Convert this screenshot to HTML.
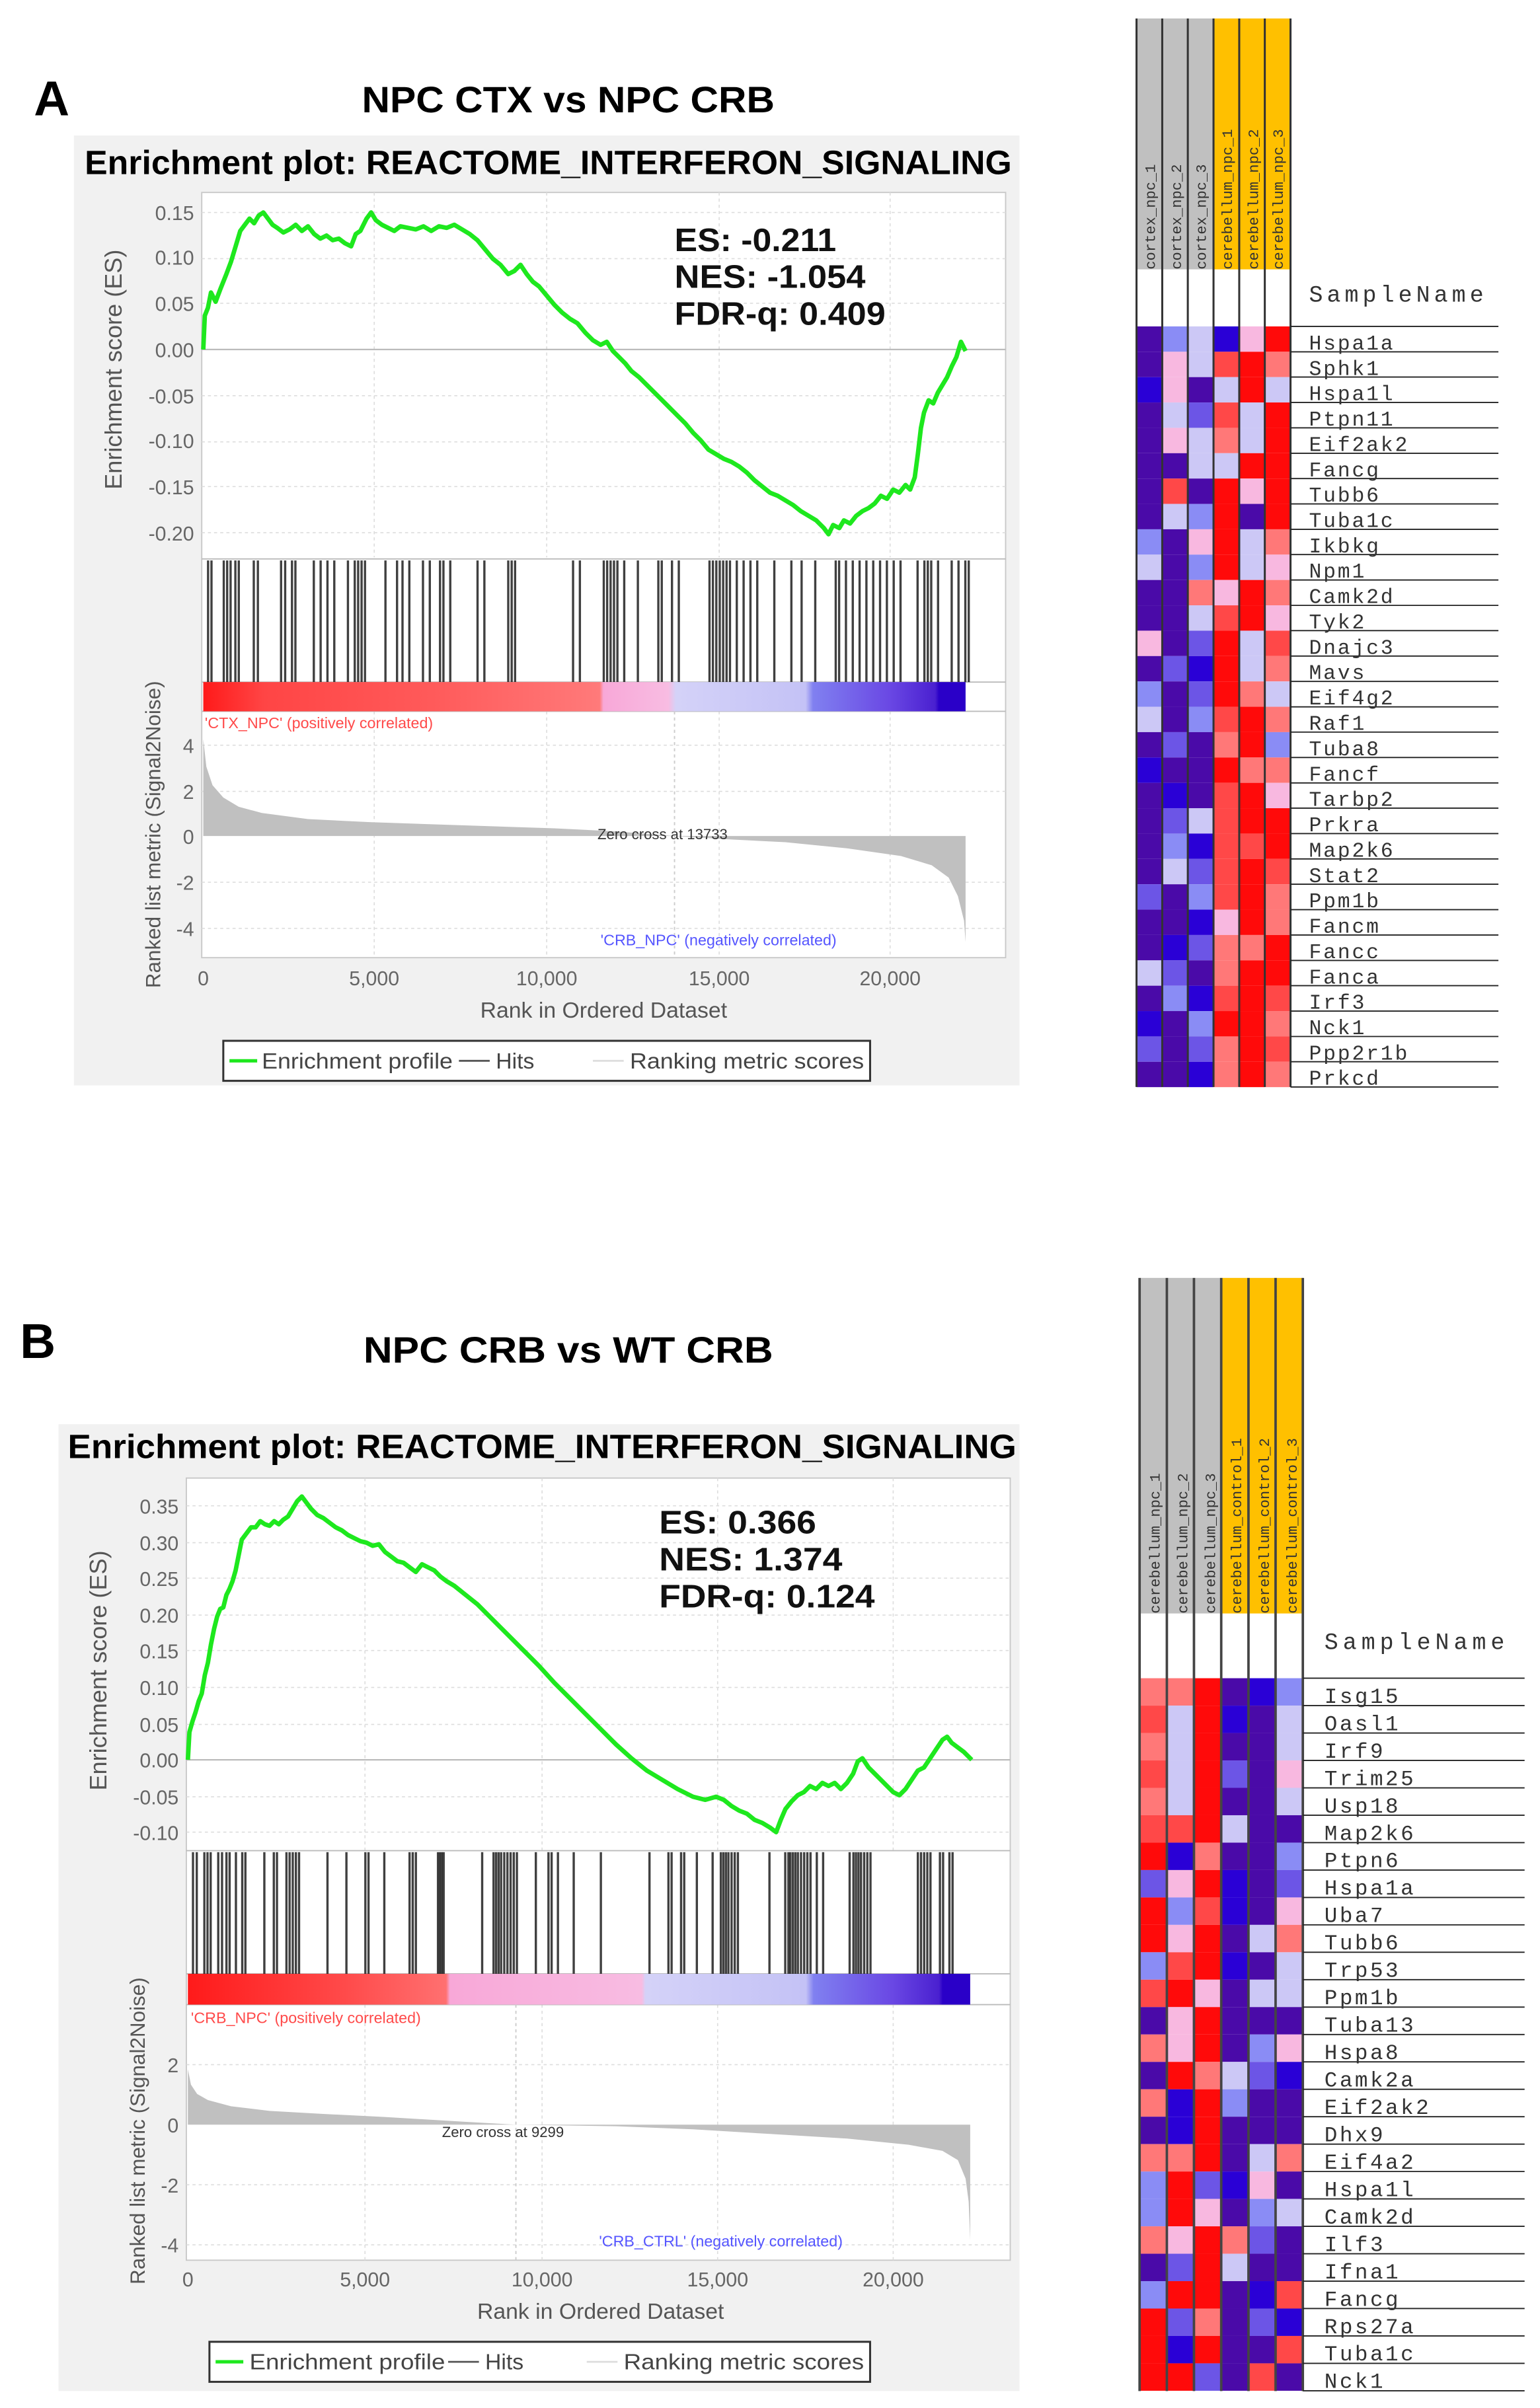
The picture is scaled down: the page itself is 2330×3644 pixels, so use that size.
<!DOCTYPE html>
<html><head><meta charset="utf-8"><style>
html,body{margin:0;padding:0;background:#fff}
svg{display:block}
.t{font-family:"Liberation Sans",sans-serif}
.m{font-family:"Liberation Mono",monospace;fill:#333}
.D{fill:#4a0aa8}.B{fill:#2a00d6}.M{fill:#6c55e6}.L{fill:#8a8cf5}.P{fill:#ccc8f6}.K{fill:#f8b8e0}.R{fill:#ff0a0a}.r{fill:#ff4848}.s{fill:#ff7878}
.tk{font-family:"Liberation Sans",sans-serif;font-size:13px;fill:#666}
.g{stroke:#ddd;stroke-width:0.7;stroke-dasharray:2 2}
.h line{stroke:#111;vector-effect:non-scaling-stroke;stroke-width:3.4;opacity:0.8}
.gl{stroke:#222;stroke-width:0.8}
</style></head><body>
<svg width="2330" height="3644" viewBox="0 0 1000 1564" preserveAspectRatio="none" xmlns="http://www.w3.org/2000/svg">
<defs>
<linearGradient id="ga" x1="0" x2="1">
<stop offset="0" stop-color="#ff1a1a"/><stop offset="0.08" stop-color="#ff4545"/><stop offset="0.3" stop-color="#ff5a5a"/><stop offset="0.52" stop-color="#ff7a7a"/><stop offset="0.525" stop-color="#f8a8d8"/><stop offset="0.61" stop-color="#f8bce2"/><stop offset="0.62" stop-color="#d4d2f8"/><stop offset="0.79" stop-color="#c4c2f6"/><stop offset="0.8" stop-color="#8080f0"/><stop offset="0.9" stop-color="#6a48e4"/><stop offset="0.96" stop-color="#4a20d0"/><stop offset="0.965" stop-color="#2a00c8"/><stop offset="1" stop-color="#2a00c8"/>
</linearGradient>
<linearGradient id="gb" x1="0" x2="1">
<stop offset="0" stop-color="#ff1a1a"/><stop offset="0.2" stop-color="#ff4a4a"/><stop offset="0.33" stop-color="#ff7070"/><stop offset="0.335" stop-color="#f8a8d8"/><stop offset="0.58" stop-color="#f8bce2"/><stop offset="0.585" stop-color="#d4d2f8"/><stop offset="0.79" stop-color="#c4c2f6"/><stop offset="0.8" stop-color="#8080f0"/><stop offset="0.9" stop-color="#6a48e4"/><stop offset="0.96" stop-color="#4a20d0"/><stop offset="0.965" stop-color="#2a00c8"/><stop offset="1" stop-color="#2a00c8"/>
</linearGradient>
</defs>

<!-- ===== PANEL A ===== -->
<text x="22" y="75" class="t" font-size="32" font-weight="bold">A</text>
<text x="235" y="73" class="t" font-size="24" font-weight="bold" textLength="268" lengthAdjust="spacingAndGlyphs">NPC CTX vs NPC CRB</text>
<rect x="48" y="88" width="614" height="617" fill="#f1f1f1"/>
<text x="55" y="113" class="t" font-size="22" font-weight="bold" textLength="602" lengthAdjust="spacingAndGlyphs">Enrichment plot: REACTOME_INTERFERON_SIGNALING</text>
<rect x="131" y="125" width="522" height="497" fill="#fff" stroke="#c8c8c8" stroke-width="0.8"/>
<g class="g">
<line x1="131" x2="653" y1="138" y2="138"/><line x1="131" x2="653" y1="168" y2="168"/><line x1="131" x2="653" y1="197" y2="197"/><line x1="131" x2="653" y1="257" y2="257"/><line x1="131" x2="653" y1="287" y2="287"/><line x1="131" x2="653" y1="316" y2="316"/><line x1="131" x2="653" y1="346" y2="346"/>
<line x1="243" x2="243" y1="125" y2="362"/><line x1="355" x2="355" y1="125" y2="362"/><line x1="467" x2="467" y1="125" y2="362"/><line x1="578" x2="578" y1="125" y2="362"/>
<line x1="131" x2="653" y1="484" y2="484"/><line x1="131" x2="653" y1="514" y2="514"/><line x1="131" x2="653" y1="573" y2="573"/><line x1="131" x2="653" y1="603" y2="603"/>
<line x1="243" x2="243" y1="462" y2="622"/><line x1="355" x2="355" y1="462" y2="622"/><line x1="467" x2="467" y1="462" y2="622"/><line x1="578" x2="578" y1="462" y2="622"/>
</g>
<line x1="131" x2="653" y1="227" y2="227" stroke="#bbb" stroke-width="1"/>
<line x1="131" x2="653" y1="363" y2="363" stroke="#bbb" stroke-width="0.8"/>
<line x1="131" x2="653" y1="443" y2="443" stroke="#bbb" stroke-width="0.8"/>
<line x1="131" x2="653" y1="462" y2="462" stroke="#bbb" stroke-width="0.8"/>
<g class="tk" text-anchor="end">
<text x="126" y="143">0.15</text><text x="126" y="172">0.10</text><text x="126" y="202">0.05</text><text x="126" y="232">0.00</text><text x="126" y="262">-0.05</text><text x="126" y="291">-0.10</text><text x="126" y="321">-0.15</text><text x="126" y="351">-0.20</text>
<text x="126" y="489">4</text><text x="126" y="519">2</text><text x="126" y="548">0</text><text x="126" y="578">-2</text><text x="126" y="608">-4</text>
</g>
<g class="tk" text-anchor="middle">
<text x="132" y="640">0</text><text x="243" y="640">5,000</text><text x="355" y="640">10,000</text><text x="467" y="640">15,000</text><text x="578" y="640">20,000</text>
</g>
<text x="392" y="661" class="t" font-size="14.5" fill="#555" text-anchor="middle">Rank in Ordered Dataset</text>
<text transform="translate(79,240) rotate(-90)" class="t" font-size="15.5" fill="#555" text-anchor="middle">Enrichment score (ES)</text>
<text transform="translate(104,542) rotate(-90)" class="t" font-size="13.5" fill="#555" text-anchor="middle">Ranked list metric (Signal2Noise)</text>
<!-- hits A -->
<g class="h" transform="scale(0.443,1)">
<line x1="305" x2="305" y1="364" y2="443"/><line x1="310" x2="310" y1="364" y2="443"/><line x1="328" x2="328" y1="364" y2="443"/><line x1="333" x2="333" y1="364" y2="443"/><line x1="338" x2="338" y1="364" y2="443"/><line x1="345" x2="345" y1="364" y2="443"/><line x1="350" x2="350" y1="364" y2="443"/><line x1="372" x2="372" y1="364" y2="443"/><line x1="378" x2="378" y1="364" y2="443"/><line x1="412" x2="412" y1="364" y2="443"/><line x1="418" x2="418" y1="364" y2="443"/><line x1="428" x2="428" y1="364" y2="443"/><line x1="433" x2="433" y1="364" y2="443"/><line x1="460" x2="460" y1="364" y2="443"/><line x1="470" x2="470" y1="364" y2="443"/><line x1="480" x2="480" y1="364" y2="443"/><line x1="490" x2="490" y1="364" y2="443"/><line x1="510" x2="510" y1="364" y2="443"/><line x1="520" x2="520" y1="364" y2="443"/><line x1="525" x2="525" y1="364" y2="443"/><line x1="530" x2="530" y1="364" y2="443"/><line x1="535" x2="535" y1="364" y2="443"/><line x1="565" x2="565" y1="364" y2="443"/><line x1="582" x2="582" y1="364" y2="443"/><line x1="590" x2="590" y1="364" y2="443"/><line x1="600" x2="600" y1="364" y2="443"/><line x1="620" x2="620" y1="364" y2="443"/><line x1="630" x2="630" y1="364" y2="443"/><line x1="645" x2="645" y1="364" y2="443"/><line x1="650" x2="650" y1="364" y2="443"/><line x1="660" x2="660" y1="364" y2="443"/><line x1="700" x2="700" y1="364" y2="443"/><line x1="710" x2="710" y1="364" y2="443"/><line x1="745" x2="745" y1="364" y2="443"/><line x1="750" x2="750" y1="364" y2="443"/><line x1="755" x2="755" y1="364" y2="443"/><line x1="840" x2="840" y1="364" y2="443"/><line x1="850" x2="850" y1="364" y2="443"/><line x1="885" x2="885" y1="364" y2="443"/><line x1="890" x2="890" y1="364" y2="443"/><line x1="895" x2="895" y1="364" y2="443"/><line x1="900" x2="900" y1="364" y2="443"/><line x1="905" x2="905" y1="364" y2="443"/><line x1="915" x2="915" y1="364" y2="443"/><line x1="935" x2="935" y1="364" y2="443"/><line x1="965" x2="965" y1="364" y2="443"/><line x1="970" x2="970" y1="364" y2="443"/><line x1="985" x2="985" y1="364" y2="443"/><line x1="995" x2="995" y1="364" y2="443"/><line x1="1040" x2="1040" y1="364" y2="443"/><line x1="1045" x2="1045" y1="364" y2="443"/><line x1="1050" x2="1050" y1="364" y2="443"/><line x1="1055" x2="1055" y1="364" y2="443"/><line x1="1060" x2="1060" y1="364" y2="443"/><line x1="1065" x2="1065" y1="364" y2="443"/><line x1="1070" x2="1070" y1="364" y2="443"/><line x1="1080" x2="1080" y1="364" y2="443"/><line x1="1090" x2="1090" y1="364" y2="443"/><line x1="1100" x2="1100" y1="364" y2="443"/><line x1="1110" x2="1110" y1="364" y2="443"/><line x1="1135" x2="1135" y1="364" y2="443"/><line x1="1160" x2="1160" y1="364" y2="443"/><line x1="1175" x2="1175" y1="364" y2="443"/><line x1="1195" x2="1195" y1="364" y2="443"/><line x1="1225" x2="1225" y1="364" y2="443"/><line x1="1230" x2="1230" y1="364" y2="443"/><line x1="1240" x2="1240" y1="364" y2="443"/><line x1="1250" x2="1250" y1="364" y2="443"/><line x1="1260" x2="1260" y1="364" y2="443"/><line x1="1270" x2="1270" y1="364" y2="443"/><line x1="1280" x2="1280" y1="364" y2="443"/><line x1="1290" x2="1290" y1="364" y2="443"/><line x1="1300" x2="1300" y1="364" y2="443"/><line x1="1310" x2="1310" y1="364" y2="443"/><line x1="1320" x2="1320" y1="364" y2="443"/><line x1="1345" x2="1345" y1="364" y2="443"/><line x1="1355" x2="1355" y1="364" y2="443"/><line x1="1360" x2="1360" y1="364" y2="443"/><line x1="1365" x2="1365" y1="364" y2="443"/><line x1="1375" x2="1375" y1="364" y2="443"/><line x1="1395" x2="1395" y1="364" y2="443"/><line x1="1405" x2="1405" y1="364" y2="443"/><line x1="1415" x2="1415" y1="364" y2="443"/><line x1="1420" x2="1420" y1="364" y2="443"/>
</g>
<rect x="132" y="443" width="495" height="19" fill="url(#ga)"/>
<text x="133" y="473" class="t" font-size="10" fill="#ff4a4a">'CTX_NPC' (positively correlated)</text>
<path d="M132,543 L132,480 L134,498 L138,510 L145,518 L155,524 L170,528 L200,532 L240,534 L300,536 L360,538 L400,540 L438,543 L470,545 L510,547 L550,551 L585,556 L605,562 L616,570 L622,582 L626,598 L627,612 L627,543 Z" fill="#c0c0c0"/>
<line x1="438" x2="438" y1="462" y2="622" stroke="#ccc" stroke-width="0.8" stroke-dasharray="2 2"/>
<text x="388" y="545" class="t" font-size="9.5" fill="#333">Zero cross at 13733</text>
<text x="390" y="614" class="t" font-size="10" fill="#5555ff">'CRB_NPC' (negatively correlated)</text>
<polyline fill="none" stroke="#1ee81e" stroke-width="2.9" stroke-linejoin="round" points="132,227 133,205 135,200 137,190 140,196 143,188 147,178 150,170 153,160 156,150 159,146 162,142 165,145 168,140 171,138 174,142 177,146 180,148 184,151 188,149 192,146 196,150 200,147 204,152 208,155 212,153 216,156 220,155 224,158 228,160 231,152 234,150 238,142 241,138 244,143 248,146 252,148 256,150 260,147 265,148 270,149 275,147 280,150 285,147 290,148 295,146 300,149 305,152 310,156 315,162 320,168 325,172 330,178 334,176 338,172 342,178 346,183 350,186 355,192 360,198 365,203 370,207 375,210 380,216 385,221 390,224 394,222 398,228 402,232 406,236 410,241 415,245 420,250 425,255 430,260 435,265 440,270 445,275 450,281 455,286 460,292 465,295 470,298 475,300 480,303 485,307 490,312 495,316 500,320 505,322 510,325 515,328 520,332 525,335 530,338 535,343 538,347 541,341 545,343 548,338 552,340 556,335 560,332 564,330 568,327 572,322 576,324 580,318 584,320 588,315 591,318 594,310 596,295 598,278 600,268 603,260 606,262 609,255 612,250 615,245 618,238 621,232 624,222 627,228"/>
<g class="t" font-size="21" font-weight="bold" fill="#111">
<text x="438" y="163" textLength="105" lengthAdjust="spacingAndGlyphs">ES: -0.211</text><text x="438" y="187" textLength="124" lengthAdjust="spacingAndGlyphs">NES: -1.054</text><text x="438" y="211" textLength="137" lengthAdjust="spacingAndGlyphs">FDR-q: 0.409</text>
</g>
<!-- legend A -->
<rect x="145" y="676" width="420" height="26" fill="#fff" stroke="#333" stroke-width="1.3"/>
<line x1="149" x2="167" y1="689" y2="689" stroke="#1ee81e" stroke-width="2.2"/>
<text x="170" y="694" class="t" font-size="14.5" fill="#444" textLength="124" lengthAdjust="spacingAndGlyphs">Enrichment profile</text>
<line x1="298" x2="318" y1="689" y2="689" stroke="#555" stroke-width="1.2"/>
<text x="322" y="694" class="t" font-size="14.5" fill="#444">Hits</text>
<line x1="385" x2="405" y1="689" y2="689" stroke="#ddd" stroke-width="1.2"/>
<text x="409" y="694" class="t" font-size="14.5" fill="#444" textLength="152" lengthAdjust="spacingAndGlyphs">Ranking metric scores</text>

<!-- Heatmap A -->
<rect x="738" y="12" width="50" height="163" fill="#c0c0c0"/>
<rect x="788" y="12" width="50" height="163" fill="#ffc000"/>
<rect x="738" y="175" width="100" height="37" fill="#fff"/>
<g class="m" font-size="9.5" fill="#444">
<text transform="translate(750,175) rotate(-90)">cortex_npc_1</text>
<text transform="translate(767,175) rotate(-90)">cortex_npc_2</text>
<text transform="translate(783,175) rotate(-90)">cortex_npc_3</text>
<text transform="translate(800,175) rotate(-90)">cerebellum_npc_1</text>
<text transform="translate(817,175) rotate(-90)">cerebellum_npc_2</text>
<text transform="translate(833,175) rotate(-90)">cerebellum_npc_3</text>
</g>
<g transform="translate(738,212) scale(16.67,16.47)">
<g transform="translate(0,0)"><rect width="1" height="1" class="D"/><rect x="1" width="1" height="1" class="L"/><rect x="2" width="1" height="1" class="P"/><rect x="3" width="1" height="1" class="B"/><rect x="4" width="1" height="1" class="K"/><rect x="5" width="1" height="1" class="R"/></g>
<g transform="translate(0,1)"><rect width="1" height="1" class="D"/><rect x="1" width="1" height="1" class="K"/><rect x="2" width="1" height="1" class="P"/><rect x="3" width="1" height="1" class="r"/><rect x="4" width="1" height="1" class="R"/><rect x="5" width="1" height="1" class="s"/></g>
<g transform="translate(0,2)"><rect width="1" height="1" class="B"/><rect x="1" width="1" height="1" class="K"/><rect x="2" width="1" height="1" class="D"/><rect x="3" width="1" height="1" class="P"/><rect x="4" width="1" height="1" class="R"/><rect x="5" width="1" height="1" class="P"/></g>
<g transform="translate(0,3)"><rect width="1" height="1" class="D"/><rect x="1" width="1" height="1" class="P"/><rect x="2" width="1" height="1" class="M"/><rect x="3" width="1" height="1" class="r"/><rect x="4" width="1" height="1" class="P"/><rect x="5" width="1" height="1" class="R"/></g>
<g transform="translate(0,4)"><rect width="1" height="1" class="D"/><rect x="1" width="1" height="1" class="K"/><rect x="2" width="1" height="1" class="P"/><rect x="3" width="1" height="1" class="s"/><rect x="4" width="1" height="1" class="P"/><rect x="5" width="1" height="1" class="R"/></g>
<g transform="translate(0,5)"><rect width="1" height="1" class="D"/><rect x="1" width="1" height="1" class="D"/><rect x="2" width="1" height="1" class="P"/><rect x="3" width="1" height="1" class="P"/><rect x="4" width="1" height="1" class="R"/><rect x="5" width="1" height="1" class="R"/></g>
<g transform="translate(0,6)"><rect width="1" height="1" class="D"/><rect x="1" width="1" height="1" class="r"/><rect x="2" width="1" height="1" class="D"/><rect x="3" width="1" height="1" class="R"/><rect x="4" width="1" height="1" class="K"/><rect x="5" width="1" height="1" class="R"/></g>
<g transform="translate(0,7)"><rect width="1" height="1" class="D"/><rect x="1" width="1" height="1" class="P"/><rect x="2" width="1" height="1" class="L"/><rect x="3" width="1" height="1" class="R"/><rect x="4" width="1" height="1" class="D"/><rect x="5" width="1" height="1" class="R"/></g>
<g transform="translate(0,8)"><rect width="1" height="1" class="L"/><rect x="1" width="1" height="1" class="D"/><rect x="2" width="1" height="1" class="K"/><rect x="3" width="1" height="1" class="R"/><rect x="4" width="1" height="1" class="P"/><rect x="5" width="1" height="1" class="s"/></g>
<g transform="translate(0,9)"><rect width="1" height="1" class="P"/><rect x="1" width="1" height="1" class="D"/><rect x="2" width="1" height="1" class="L"/><rect x="3" width="1" height="1" class="R"/><rect x="4" width="1" height="1" class="P"/><rect x="5" width="1" height="1" class="K"/></g>
<g transform="translate(0,10)"><rect width="1" height="1" class="D"/><rect x="1" width="1" height="1" class="D"/><rect x="2" width="1" height="1" class="s"/><rect x="3" width="1" height="1" class="K"/><rect x="4" width="1" height="1" class="R"/><rect x="5" width="1" height="1" class="s"/></g>
<g transform="translate(0,11)"><rect width="1" height="1" class="D"/><rect x="1" width="1" height="1" class="D"/><rect x="2" width="1" height="1" class="P"/><rect x="3" width="1" height="1" class="r"/><rect x="4" width="1" height="1" class="R"/><rect x="5" width="1" height="1" class="K"/></g>
<g transform="translate(0,12)"><rect width="1" height="1" class="K"/><rect x="1" width="1" height="1" class="D"/><rect x="2" width="1" height="1" class="M"/><rect x="3" width="1" height="1" class="R"/><rect x="4" width="1" height="1" class="P"/><rect x="5" width="1" height="1" class="r"/></g>
<g transform="translate(0,13)"><rect width="1" height="1" class="D"/><rect x="1" width="1" height="1" class="M"/><rect x="2" width="1" height="1" class="B"/><rect x="3" width="1" height="1" class="R"/><rect x="4" width="1" height="1" class="P"/><rect x="5" width="1" height="1" class="s"/></g>
<g transform="translate(0,14)"><rect width="1" height="1" class="L"/><rect x="1" width="1" height="1" class="D"/><rect x="2" width="1" height="1" class="M"/><rect x="3" width="1" height="1" class="R"/><rect x="4" width="1" height="1" class="s"/><rect x="5" width="1" height="1" class="P"/></g>
<g transform="translate(0,15)"><rect width="1" height="1" class="P"/><rect x="1" width="1" height="1" class="D"/><rect x="2" width="1" height="1" class="L"/><rect x="3" width="1" height="1" class="r"/><rect x="4" width="1" height="1" class="R"/><rect x="5" width="1" height="1" class="s"/></g>
<g transform="translate(0,16)"><rect width="1" height="1" class="D"/><rect x="1" width="1" height="1" class="M"/><rect x="2" width="1" height="1" class="D"/><rect x="3" width="1" height="1" class="s"/><rect x="4" width="1" height="1" class="R"/><rect x="5" width="1" height="1" class="L"/></g>
<g transform="translate(0,17)"><rect width="1" height="1" class="B"/><rect x="1" width="1" height="1" class="D"/><rect x="2" width="1" height="1" class="D"/><rect x="3" width="1" height="1" class="R"/><rect x="4" width="1" height="1" class="s"/><rect x="5" width="1" height="1" class="s"/></g>
<g transform="translate(0,18)"><rect width="1" height="1" class="D"/><rect x="1" width="1" height="1" class="B"/><rect x="2" width="1" height="1" class="D"/><rect x="3" width="1" height="1" class="r"/><rect x="4" width="1" height="1" class="R"/><rect x="5" width="1" height="1" class="K"/></g>
<g transform="translate(0,19)"><rect width="1" height="1" class="D"/><rect x="1" width="1" height="1" class="M"/><rect x="2" width="1" height="1" class="P"/><rect x="3" width="1" height="1" class="r"/><rect x="4" width="1" height="1" class="R"/><rect x="5" width="1" height="1" class="R"/></g>
<g transform="translate(0,20)"><rect width="1" height="1" class="D"/><rect x="1" width="1" height="1" class="L"/><rect x="2" width="1" height="1" class="B"/><rect x="3" width="1" height="1" class="r"/><rect x="4" width="1" height="1" class="r"/><rect x="5" width="1" height="1" class="R"/></g>
<g transform="translate(0,21)"><rect width="1" height="1" class="D"/><rect x="1" width="1" height="1" class="P"/><rect x="2" width="1" height="1" class="M"/><rect x="3" width="1" height="1" class="r"/><rect x="4" width="1" height="1" class="R"/><rect x="5" width="1" height="1" class="r"/></g>
<g transform="translate(0,22)"><rect width="1" height="1" class="M"/><rect x="1" width="1" height="1" class="D"/><rect x="2" width="1" height="1" class="L"/><rect x="3" width="1" height="1" class="r"/><rect x="4" width="1" height="1" class="R"/><rect x="5" width="1" height="1" class="s"/></g>
<g transform="translate(0,23)"><rect width="1" height="1" class="D"/><rect x="1" width="1" height="1" class="D"/><rect x="2" width="1" height="1" class="B"/><rect x="3" width="1" height="1" class="K"/><rect x="4" width="1" height="1" class="R"/><rect x="5" width="1" height="1" class="s"/></g>
<g transform="translate(0,24)"><rect width="1" height="1" class="D"/><rect x="1" width="1" height="1" class="B"/><rect x="2" width="1" height="1" class="M"/><rect x="3" width="1" height="1" class="s"/><rect x="4" width="1" height="1" class="s"/><rect x="5" width="1" height="1" class="R"/></g>
<g transform="translate(0,25)"><rect width="1" height="1" class="P"/><rect x="1" width="1" height="1" class="M"/><rect x="2" width="1" height="1" class="D"/><rect x="3" width="1" height="1" class="s"/><rect x="4" width="1" height="1" class="R"/><rect x="5" width="1" height="1" class="R"/></g>
<g transform="translate(0,26)"><rect width="1" height="1" class="D"/><rect x="1" width="1" height="1" class="L"/><rect x="2" width="1" height="1" class="B"/><rect x="3" width="1" height="1" class="r"/><rect x="4" width="1" height="1" class="R"/><rect x="5" width="1" height="1" class="r"/></g>
<g transform="translate(0,27)"><rect width="1" height="1" class="B"/><rect x="1" width="1" height="1" class="D"/><rect x="2" width="1" height="1" class="L"/><rect x="3" width="1" height="1" class="R"/><rect x="4" width="1" height="1" class="R"/><rect x="5" width="1" height="1" class="s"/></g>
<g transform="translate(0,28)"><rect width="1" height="1" class="M"/><rect x="1" width="1" height="1" class="D"/><rect x="2" width="1" height="1" class="M"/><rect x="3" width="1" height="1" class="s"/><rect x="4" width="1" height="1" class="R"/><rect x="5" width="1" height="1" class="r"/></g>
<g transform="translate(0,29)"><rect width="1" height="1" class="D"/><rect x="1" width="1" height="1" class="D"/><rect x="2" width="1" height="1" class="B"/><rect x="3" width="1" height="1" class="s"/><rect x="4" width="1" height="1" class="R"/><rect x="5" width="1" height="1" class="s"/></g>
</g>
<g stroke="#333" stroke-width="1.3">
<line x1="738" x2="738" y1="12" y2="706"/><line x1="754.7" x2="754.7" y1="12" y2="706"/><line x1="771.3" x2="771.3" y1="12" y2="706"/><line x1="788" x2="788" y1="12" y2="706"/><line x1="804.7" x2="804.7" y1="12" y2="706"/><line x1="821.3" x2="821.3" y1="12" y2="706"/><line x1="838" x2="838" y1="12" y2="706"/>
</g>
<text x="850" y="196" class="m" font-size="15" letter-spacing="2.6">SampleName</text>
<g class="gl">
<line x1="838" x2="973" y1="212" y2="212"/><line x1="838" x2="973" y1="228.5" y2="228.5"/><line x1="838" x2="973" y1="244.9" y2="244.9"/><line x1="838" x2="973" y1="261.4" y2="261.4"/><line x1="838" x2="973" y1="277.9" y2="277.9"/><line x1="838" x2="973" y1="294.4" y2="294.4"/><line x1="838" x2="973" y1="310.8" y2="310.8"/><line x1="838" x2="973" y1="327.3" y2="327.3"/><line x1="838" x2="973" y1="343.8" y2="343.8"/><line x1="838" x2="973" y1="360.2" y2="360.2"/><line x1="838" x2="973" y1="376.7" y2="376.7"/><line x1="838" x2="973" y1="393.2" y2="393.2"/><line x1="838" x2="973" y1="409.6" y2="409.6"/><line x1="838" x2="973" y1="426.1" y2="426.1"/><line x1="838" x2="973" y1="442.6" y2="442.6"/><line x1="838" x2="973" y1="459.1" y2="459.1"/><line x1="838" x2="973" y1="475.5" y2="475.5"/><line x1="838" x2="973" y1="492" y2="492"/><line x1="838" x2="973" y1="508.5" y2="508.5"/><line x1="838" x2="973" y1="524.9" y2="524.9"/><line x1="838" x2="973" y1="541.4" y2="541.4"/><line x1="838" x2="973" y1="557.9" y2="557.9"/><line x1="838" x2="973" y1="574.3" y2="574.3"/><line x1="838" x2="973" y1="590.8" y2="590.8"/><line x1="838" x2="973" y1="607.3" y2="607.3"/><line x1="838" x2="973" y1="623.8" y2="623.8"/><line x1="838" x2="973" y1="640.2" y2="640.2"/><line x1="838" x2="973" y1="656.7" y2="656.7"/><line x1="838" x2="973" y1="673.2" y2="673.2"/><line x1="838" x2="973" y1="689.6" y2="689.6"/><line x1="838" x2="973" y1="706" y2="706"/>
</g>
<g class="m" font-size="13.5" letter-spacing="1.2">
<text x="850" y="227">Hspa1a</text><text x="850" y="243.5">Sphk1</text><text x="850" y="259.9">Hspa1l</text><text x="850" y="276.4">Ptpn11</text><text x="850" y="292.9">Eif2ak2</text><text x="850" y="309.4">Fancg</text><text x="850" y="325.8">Tubb6</text><text x="850" y="342.3">Tuba1c</text><text x="850" y="358.8">Ikbkg</text><text x="850" y="375.2">Npm1</text><text x="850" y="391.7">Camk2d</text><text x="850" y="408.2">Tyk2</text><text x="850" y="424.6">Dnajc3</text><text x="850" y="441.1">Mavs</text><text x="850" y="457.6">Eif4g2</text><text x="850" y="474.1">Raf1</text><text x="850" y="490.5">Tuba8</text><text x="850" y="507">Fancf</text><text x="850" y="523.5">Tarbp2</text><text x="850" y="539.9">Prkra</text><text x="850" y="556.4">Map2k6</text><text x="850" y="572.9">Stat2</text><text x="850" y="589.3">Ppm1b</text><text x="850" y="605.8">Fancm</text><text x="850" y="622.3">Fancc</text><text x="850" y="638.8">Fanca</text><text x="850" y="655.2">Irf3</text><text x="850" y="671.7">Nck1</text><text x="850" y="688.2">Ppp2r1b</text><text x="850" y="704.6">Prkcd</text>
</g>

<!-- ===== PANEL B ===== -->
<text x="13" y="882" class="t" font-size="32" font-weight="bold">B</text>
<text x="236" y="885" class="t" font-size="24" font-weight="bold" textLength="266" lengthAdjust="spacingAndGlyphs">NPC CRB vs WT CRB</text>
<rect x="38" y="925" width="624" height="628" fill="#f1f1f1"/>
<text x="44" y="947" class="t" font-size="22" font-weight="bold" textLength="616" lengthAdjust="spacingAndGlyphs">Enrichment plot: REACTOME_INTERFERON_SIGNALING</text>
<rect x="121" y="960" width="535" height="508" fill="#fff" stroke="#c8c8c8" stroke-width="0.8"/>
<g class="g">
<line x1="121" x2="656" y1="978" y2="978"/><line x1="121" x2="656" y1="1002" y2="1002"/><line x1="121" x2="656" y1="1025" y2="1025"/><line x1="121" x2="656" y1="1049" y2="1049"/><line x1="121" x2="656" y1="1072" y2="1072"/><line x1="121" x2="656" y1="1096" y2="1096"/><line x1="121" x2="656" y1="1120" y2="1120"/><line x1="121" x2="656" y1="1167" y2="1167"/><line x1="121" x2="656" y1="1190" y2="1190"/>
<line x1="237" x2="237" y1="960" y2="1202"/><line x1="352" x2="352" y1="960" y2="1202"/><line x1="466" x2="466" y1="960" y2="1202"/><line x1="580" x2="580" y1="960" y2="1202"/>
<line x1="121" x2="656" y1="1341" y2="1341"/><line x1="121" x2="656" y1="1419" y2="1419"/><line x1="121" x2="656" y1="1458" y2="1458"/>
<line x1="237" x2="237" y1="1302" y2="1468"/><line x1="352" x2="352" y1="1302" y2="1468"/><line x1="466" x2="466" y1="1302" y2="1468"/><line x1="580" x2="580" y1="1302" y2="1468"/>
</g>
<line x1="121" x2="656" y1="1143" y2="1143" stroke="#bbb" stroke-width="1"/>
<line x1="121" x2="656" y1="1202" y2="1202" stroke="#bbb" stroke-width="0.8"/>
<line x1="121" x2="656" y1="1282" y2="1282" stroke="#bbb" stroke-width="0.8"/>
<line x1="121" x2="656" y1="1302" y2="1302" stroke="#bbb" stroke-width="0.8"/>
<g class="tk" text-anchor="end">
<text x="116" y="983">0.35</text><text x="116" y="1007">0.30</text><text x="116" y="1030">0.25</text><text x="116" y="1054">0.20</text><text x="116" y="1077">0.15</text><text x="116" y="1101">0.10</text><text x="116" y="1125">0.05</text><text x="116" y="1148">0.00</text><text x="116" y="1172">-0.05</text><text x="116" y="1195">-0.10</text>
<text x="116" y="1346">2</text><text x="116" y="1385">0</text><text x="116" y="1424">-2</text><text x="116" y="1463">-4</text>
</g>
<g class="tk" text-anchor="middle">
<text x="122" y="1485">0</text><text x="237" y="1485">5,000</text><text x="352" y="1485">10,000</text><text x="466" y="1485">15,000</text><text x="580" y="1485">20,000</text>
</g>
<text x="390" y="1506" class="t" font-size="14.5" fill="#555" text-anchor="middle">Rank in Ordered Dataset</text>
<text transform="translate(69,1085) rotate(-90)" class="t" font-size="15.5" fill="#555" text-anchor="middle">Enrichment score (ES)</text>
<text transform="translate(94,1384) rotate(-90)" class="t" font-size="13.5" fill="#555" text-anchor="middle">Ranked list metric (Signal2Noise)</text>
<!-- hits B -->
<g class="h" transform="translate(34.3,0) scale(0.41,1)">
<line x1="222" x2="222" y1="1203" y2="1282"/><line x1="228" x2="228" y1="1203" y2="1282"/><line x1="240" x2="240" y1="1203" y2="1282"/><line x1="245" x2="245" y1="1203" y2="1282"/><line x1="250" x2="250" y1="1203" y2="1282"/><line x1="262" x2="262" y1="1203" y2="1282"/><line x1="268" x2="268" y1="1203" y2="1282"/><line x1="275" x2="275" y1="1203" y2="1282"/><line x1="280" x2="280" y1="1203" y2="1282"/><line x1="290" x2="290" y1="1203" y2="1282"/><line x1="300" x2="300" y1="1203" y2="1282"/><line x1="305" x2="305" y1="1203" y2="1282"/><line x1="335" x2="335" y1="1203" y2="1282"/><line x1="350" x2="350" y1="1203" y2="1282"/><line x1="355" x2="355" y1="1203" y2="1282"/><line x1="370" x2="370" y1="1203" y2="1282"/><line x1="375" x2="375" y1="1203" y2="1282"/><line x1="380" x2="380" y1="1203" y2="1282"/><line x1="385" x2="385" y1="1203" y2="1282"/><line x1="390" x2="390" y1="1203" y2="1282"/><line x1="435" x2="435" y1="1203" y2="1282"/><line x1="465" x2="465" y1="1203" y2="1282"/><line x1="495" x2="495" y1="1203" y2="1282"/><line x1="500" x2="500" y1="1203" y2="1282"/><line x1="525" x2="525" y1="1203" y2="1282"/><line x1="565" x2="565" y1="1203" y2="1282"/><line x1="570" x2="570" y1="1203" y2="1282"/><line x1="575" x2="575" y1="1203" y2="1282"/><line x1="610" x2="610" y1="1203" y2="1282"/><line x1="613" x2="613" y1="1203" y2="1282"/><line x1="616" x2="616" y1="1203" y2="1282"/><line x1="619" x2="619" y1="1203" y2="1282"/><line x1="680" x2="680" y1="1203" y2="1282"/><line x1="698" x2="698" y1="1203" y2="1282"/><line x1="702" x2="702" y1="1203" y2="1282"/><line x1="706" x2="706" y1="1203" y2="1282"/><line x1="710" x2="710" y1="1203" y2="1282"/><line x1="715" x2="715" y1="1203" y2="1282"/><line x1="720" x2="720" y1="1203" y2="1282"/><line x1="725" x2="725" y1="1203" y2="1282"/><line x1="730" x2="730" y1="1203" y2="1282"/><line x1="735" x2="735" y1="1203" y2="1282"/><line x1="765" x2="765" y1="1203" y2="1282"/><line x1="785" x2="785" y1="1203" y2="1282"/><line x1="790" x2="790" y1="1203" y2="1282"/><line x1="800" x2="800" y1="1203" y2="1282"/><line x1="825" x2="825" y1="1203" y2="1282"/><line x1="868" x2="868" y1="1203" y2="1282"/><line x1="945" x2="945" y1="1203" y2="1282"/><line x1="975" x2="975" y1="1203" y2="1282"/><line x1="980" x2="980" y1="1203" y2="1282"/><line x1="995" x2="995" y1="1203" y2="1282"/><line x1="1000" x2="1000" y1="1203" y2="1282"/><line x1="1020" x2="1020" y1="1203" y2="1282"/><line x1="1045" x2="1045" y1="1203" y2="1282"/><line x1="1058" x2="1058" y1="1203" y2="1282"/><line x1="1062" x2="1062" y1="1203" y2="1282"/><line x1="1066" x2="1066" y1="1203" y2="1282"/><line x1="1070" x2="1070" y1="1203" y2="1282"/><line x1="1075" x2="1075" y1="1203" y2="1282"/><line x1="1080" x2="1080" y1="1203" y2="1282"/><line x1="1085" x2="1085" y1="1203" y2="1282"/><line x1="1135" x2="1135" y1="1203" y2="1282"/><line x1="1160" x2="1160" y1="1203" y2="1282"/><line x1="1165" x2="1165" y1="1203" y2="1282"/><line x1="1168" x2="1168" y1="1203" y2="1282"/><line x1="1172" x2="1172" y1="1203" y2="1282"/><line x1="1176" x2="1176" y1="1203" y2="1282"/><line x1="1180" x2="1180" y1="1203" y2="1282"/><line x1="1185" x2="1185" y1="1203" y2="1282"/><line x1="1190" x2="1190" y1="1203" y2="1282"/><line x1="1195" x2="1195" y1="1203" y2="1282"/><line x1="1200" x2="1200" y1="1203" y2="1282"/><line x1="1210" x2="1210" y1="1203" y2="1282"/><line x1="1220" x2="1220" y1="1203" y2="1282"/><line x1="1262" x2="1262" y1="1203" y2="1282"/><line x1="1268" x2="1268" y1="1203" y2="1282"/><line x1="1272" x2="1272" y1="1203" y2="1282"/><line x1="1276" x2="1276" y1="1203" y2="1282"/><line x1="1280" x2="1280" y1="1203" y2="1282"/><line x1="1285" x2="1285" y1="1203" y2="1282"/><line x1="1290" x2="1290" y1="1203" y2="1282"/><line x1="1295" x2="1295" y1="1203" y2="1282"/><line x1="1370" x2="1370" y1="1203" y2="1282"/><line x1="1375" x2="1375" y1="1203" y2="1282"/><line x1="1380" x2="1380" y1="1203" y2="1282"/><line x1="1385" x2="1385" y1="1203" y2="1282"/><line x1="1390" x2="1390" y1="1203" y2="1282"/><line x1="1405" x2="1405" y1="1203" y2="1282"/><line x1="1410" x2="1410" y1="1203" y2="1282"/><line x1="1420" x2="1420" y1="1203" y2="1282"/><line x1="1425" x2="1425" y1="1203" y2="1282"/>
</g>
<rect x="122" y="1282" width="508" height="20" fill="url(#gb)"/>
<text x="124" y="1314" class="t" font-size="10" fill="#ff4a4a">'CRB_NPC' (positively correlated)</text>
<path d="M122,1380 L122,1344 L124,1354 L128,1360 L135,1364 L150,1368 L175,1371 L210,1373 L250,1375 L300,1378 L335,1380 L400,1381 L450,1383 L500,1386 L550,1389 L590,1393 L612,1397 L622,1403 L627,1415 L629,1430 L630,1455 L630,1380 Z" fill="#c0c0c0"/>
<line x1="335" x2="335" y1="1302" y2="1468" stroke="#ccc" stroke-width="0.8" stroke-dasharray="2 2"/>
<text x="287" y="1388" class="t" font-size="9.5" fill="#333">Zero cross at 9299</text>
<text x="389" y="1459" class="t" font-size="10" fill="#5555ff">'CRB_CTRL' (negatively correlated)</text>
<polyline fill="none" stroke="#1ee81e" stroke-width="2.9" stroke-linejoin="round" points="122,1143 123,1125 125,1118 127,1112 129,1105 131,1100 133,1088 135,1080 137,1068 139,1058 141,1050 143,1045 145,1044 147,1036 149,1032 151,1027 153,1020 155,1010 157,1000 160,996 163,992 166,992 169,988 172,990 175,991 178,988 181,990 184,987 187,985 190,980 193,975 196,972 199,976 202,980 206,984 210,986 214,989 218,992 222,994 226,997 230,999 234,1001 238,1002 242,1004 246,1003 250,1008 254,1011 258,1014 262,1015 266,1018 270,1021 274,1016 278,1018 282,1020 286,1024 290,1027 295,1030 300,1034 310,1042 320,1052 330,1062 340,1072 350,1082 360,1093 370,1103 380,1113 390,1123 400,1133 410,1142 420,1150 430,1156 440,1162 450,1167 458,1169 465,1167 470,1169 475,1173 480,1176 485,1178 490,1182 495,1184 500,1187 504,1190 507,1182 510,1175 514,1170 518,1166 522,1164 526,1160 530,1162 534,1158 538,1160 542,1158 546,1162 550,1158 554,1152 557,1144 560,1142 564,1148 568,1152 572,1156 576,1160 580,1164 584,1166 588,1162 592,1156 596,1150 600,1148 604,1142 608,1136 612,1130 615,1128 618,1132 622,1135 626,1138 631,1143"/>
<g class="t" font-size="21" font-weight="bold" fill="#111">
<text x="428" y="996" textLength="102" lengthAdjust="spacingAndGlyphs">ES: 0.366</text><text x="428" y="1020" textLength="119" lengthAdjust="spacingAndGlyphs">NES: 1.374</text><text x="428" y="1044" textLength="140" lengthAdjust="spacingAndGlyphs">FDR-q: 0.124</text>
</g>
<!-- legend B -->
<rect x="136" y="1521" width="429" height="26" fill="#fff" stroke="#333" stroke-width="1.3"/>
<line x1="140" x2="158" y1="1534" y2="1534" stroke="#1ee81e" stroke-width="2.2"/>
<text x="162" y="1539" class="t" font-size="14.5" fill="#444" textLength="127" lengthAdjust="spacingAndGlyphs">Enrichment profile</text>
<line x1="291" x2="311" y1="1534" y2="1534" stroke="#555" stroke-width="1.2"/>
<text x="315" y="1539" class="t" font-size="14.5" fill="#444">Hits</text>
<line x1="381" x2="401" y1="1534" y2="1534" stroke="#ddd" stroke-width="1.2"/>
<text x="405" y="1539" class="t" font-size="14.5" fill="#444" textLength="156" lengthAdjust="spacingAndGlyphs">Ranking metric scores</text>

<!-- Heatmap B -->
<rect x="740" y="830" width="53" height="218" fill="#c0c0c0"/>
<rect x="793" y="830" width="53" height="218" fill="#ffc000"/>
<rect x="740" y="1048" width="106" height="42" fill="#fff"/>
<g class="m" font-size="9.5" fill="#444">
<text transform="translate(753,1048) rotate(-90)">cerebellum_npc_1</text>
<text transform="translate(771,1048) rotate(-90)">cerebellum_npc_2</text>
<text transform="translate(789,1048) rotate(-90)">cerebellum_npc_3</text>
<text transform="translate(806,1048) rotate(-90)">cerebellum_control_1</text>
<text transform="translate(824,1048) rotate(-90)">cerebellum_control_2</text>
<text transform="translate(842,1048) rotate(-90)">cerebellum_control_3</text>
</g>
<g transform="translate(740,1090) scale(17.67,17.8)">
<g transform="translate(0,0)"><rect width="1" height="1" class="s"/><rect x="1" width="1" height="1" class="s"/><rect x="2" width="1" height="1" class="R"/><rect x="3" width="1" height="1" class="D"/><rect x="4" width="1" height="1" class="B"/><rect x="5" width="1" height="1" class="L"/></g>
<g transform="translate(0,1)"><rect width="1" height="1" class="r"/><rect x="1" width="1" height="1" class="P"/><rect x="2" width="1" height="1" class="R"/><rect x="3" width="1" height="1" class="B"/><rect x="4" width="1" height="1" class="D"/><rect x="5" width="1" height="1" class="P"/></g>
<g transform="translate(0,2)"><rect width="1" height="1" class="s"/><rect x="1" width="1" height="1" class="P"/><rect x="2" width="1" height="1" class="R"/><rect x="3" width="1" height="1" class="D"/><rect x="4" width="1" height="1" class="D"/><rect x="5" width="1" height="1" class="P"/></g>
<g transform="translate(0,3)"><rect width="1" height="1" class="r"/><rect x="1" width="1" height="1" class="P"/><rect x="2" width="1" height="1" class="R"/><rect x="3" width="1" height="1" class="M"/><rect x="4" width="1" height="1" class="D"/><rect x="5" width="1" height="1" class="K"/></g>
<g transform="translate(0,4)"><rect width="1" height="1" class="s"/><rect x="1" width="1" height="1" class="P"/><rect x="2" width="1" height="1" class="R"/><rect x="3" width="1" height="1" class="D"/><rect x="4" width="1" height="1" class="D"/><rect x="5" width="1" height="1" class="P"/></g>
<g transform="translate(0,5)"><rect width="1" height="1" class="r"/><rect x="1" width="1" height="1" class="r"/><rect x="2" width="1" height="1" class="R"/><rect x="3" width="1" height="1" class="P"/><rect x="4" width="1" height="1" class="D"/><rect x="5" width="1" height="1" class="D"/></g>
<g transform="translate(0,6)"><rect width="1" height="1" class="R"/><rect x="1" width="1" height="1" class="B"/><rect x="2" width="1" height="1" class="s"/><rect x="3" width="1" height="1" class="D"/><rect x="4" width="1" height="1" class="D"/><rect x="5" width="1" height="1" class="L"/></g>
<g transform="translate(0,7)"><rect width="1" height="1" class="M"/><rect x="1" width="1" height="1" class="K"/><rect x="2" width="1" height="1" class="R"/><rect x="3" width="1" height="1" class="B"/><rect x="4" width="1" height="1" class="D"/><rect x="5" width="1" height="1" class="M"/></g>
<g transform="translate(0,8)"><rect width="1" height="1" class="R"/><rect x="1" width="1" height="1" class="L"/><rect x="2" width="1" height="1" class="r"/><rect x="3" width="1" height="1" class="B"/><rect x="4" width="1" height="1" class="D"/><rect x="5" width="1" height="1" class="K"/></g>
<g transform="translate(0,9)"><rect width="1" height="1" class="R"/><rect x="1" width="1" height="1" class="K"/><rect x="2" width="1" height="1" class="R"/><rect x="3" width="1" height="1" class="D"/><rect x="4" width="1" height="1" class="P"/><rect x="5" width="1" height="1" class="s"/></g>
<g transform="translate(0,10)"><rect width="1" height="1" class="L"/><rect x="1" width="1" height="1" class="r"/><rect x="2" width="1" height="1" class="R"/><rect x="3" width="1" height="1" class="B"/><rect x="4" width="1" height="1" class="D"/><rect x="5" width="1" height="1" class="P"/></g>
<g transform="translate(0,11)"><rect width="1" height="1" class="r"/><rect x="1" width="1" height="1" class="R"/><rect x="2" width="1" height="1" class="K"/><rect x="3" width="1" height="1" class="D"/><rect x="4" width="1" height="1" class="P"/><rect x="5" width="1" height="1" class="P"/></g>
<g transform="translate(0,12)"><rect width="1" height="1" class="D"/><rect x="1" width="1" height="1" class="K"/><rect x="2" width="1" height="1" class="R"/><rect x="3" width="1" height="1" class="D"/><rect x="4" width="1" height="1" class="D"/><rect x="5" width="1" height="1" class="D"/></g>
<g transform="translate(0,13)"><rect width="1" height="1" class="s"/><rect x="1" width="1" height="1" class="K"/><rect x="2" width="1" height="1" class="R"/><rect x="3" width="1" height="1" class="D"/><rect x="4" width="1" height="1" class="L"/><rect x="5" width="1" height="1" class="K"/></g>
<g transform="translate(0,14)"><rect width="1" height="1" class="D"/><rect x="1" width="1" height="1" class="R"/><rect x="2" width="1" height="1" class="s"/><rect x="3" width="1" height="1" class="P"/><rect x="4" width="1" height="1" class="M"/><rect x="5" width="1" height="1" class="B"/></g>
<g transform="translate(0,15)"><rect width="1" height="1" class="s"/><rect x="1" width="1" height="1" class="B"/><rect x="2" width="1" height="1" class="R"/><rect x="3" width="1" height="1" class="L"/><rect x="4" width="1" height="1" class="D"/><rect x="5" width="1" height="1" class="D"/></g>
<g transform="translate(0,16)"><rect width="1" height="1" class="D"/><rect x="1" width="1" height="1" class="B"/><rect x="2" width="1" height="1" class="R"/><rect x="3" width="1" height="1" class="D"/><rect x="4" width="1" height="1" class="D"/><rect x="5" width="1" height="1" class="D"/></g>
<g transform="translate(0,17)"><rect width="1" height="1" class="s"/><rect x="1" width="1" height="1" class="s"/><rect x="2" width="1" height="1" class="R"/><rect x="3" width="1" height="1" class="D"/><rect x="4" width="1" height="1" class="P"/><rect x="5" width="1" height="1" class="s"/></g>
<g transform="translate(0,18)"><rect width="1" height="1" class="L"/><rect x="1" width="1" height="1" class="R"/><rect x="2" width="1" height="1" class="M"/><rect x="3" width="1" height="1" class="B"/><rect x="4" width="1" height="1" class="K"/><rect x="5" width="1" height="1" class="D"/></g>
<g transform="translate(0,19)"><rect width="1" height="1" class="L"/><rect x="1" width="1" height="1" class="R"/><rect x="2" width="1" height="1" class="K"/><rect x="3" width="1" height="1" class="D"/><rect x="4" width="1" height="1" class="L"/><rect x="5" width="1" height="1" class="P"/></g>
<g transform="translate(0,20)"><rect width="1" height="1" class="s"/><rect x="1" width="1" height="1" class="K"/><rect x="2" width="1" height="1" class="R"/><rect x="3" width="1" height="1" class="s"/><rect x="4" width="1" height="1" class="M"/><rect x="5" width="1" height="1" class="D"/></g>
<g transform="translate(0,21)"><rect width="1" height="1" class="D"/><rect x="1" width="1" height="1" class="M"/><rect x="2" width="1" height="1" class="R"/><rect x="3" width="1" height="1" class="P"/><rect x="4" width="1" height="1" class="D"/><rect x="5" width="1" height="1" class="D"/></g>
<g transform="translate(0,22)"><rect width="1" height="1" class="L"/><rect x="1" width="1" height="1" class="R"/><rect x="2" width="1" height="1" class="R"/><rect x="3" width="1" height="1" class="D"/><rect x="4" width="1" height="1" class="B"/><rect x="5" width="1" height="1" class="r"/></g>
<g transform="translate(0,23)"><rect width="1" height="1" class="R"/><rect x="1" width="1" height="1" class="M"/><rect x="2" width="1" height="1" class="s"/><rect x="3" width="1" height="1" class="D"/><rect x="4" width="1" height="1" class="M"/><rect x="5" width="1" height="1" class="B"/></g>
<g transform="translate(0,24)"><rect width="1" height="1" class="R"/><rect x="1" width="1" height="1" class="B"/><rect x="2" width="1" height="1" class="R"/><rect x="3" width="1" height="1" class="D"/><rect x="4" width="1" height="1" class="D"/><rect x="5" width="1" height="1" class="r"/></g>
<g transform="translate(0,25)"><rect width="1" height="1" class="R"/><rect x="1" width="1" height="1" class="R"/><rect x="2" width="1" height="1" class="M"/><rect x="3" width="1" height="1" class="D"/><rect x="4" width="1" height="1" class="r"/><rect x="5" width="1" height="1" class="D"/></g>
</g>
<g stroke="#444" stroke-width="1.6">
<line x1="740" x2="740" y1="830" y2="1553"/><line x1="757.7" x2="757.7" y1="830" y2="1553"/><line x1="775.3" x2="775.3" y1="830" y2="1553"/><line x1="793" x2="793" y1="830" y2="1553"/><line x1="810.7" x2="810.7" y1="830" y2="1553"/><line x1="828.3" x2="828.3" y1="830" y2="1553"/><line x1="846" x2="846" y1="830" y2="1553"/>
</g>
<text x="860" y="1071" class="m" font-size="15" letter-spacing="3">SampleName</text>
<g class="gl">
<line x1="846" x2="990" y1="1090" y2="1090"/><line x1="846" x2="990" y1="1107.8" y2="1107.8"/><line x1="846" x2="990" y1="1125.6" y2="1125.6"/><line x1="846" x2="990" y1="1143.4" y2="1143.4"/><line x1="846" x2="990" y1="1161.2" y2="1161.2"/><line x1="846" x2="990" y1="1179" y2="1179"/><line x1="846" x2="990" y1="1196.8" y2="1196.8"/><line x1="846" x2="990" y1="1214.6" y2="1214.6"/><line x1="846" x2="990" y1="1232.4" y2="1232.4"/><line x1="846" x2="990" y1="1250.2" y2="1250.2"/><line x1="846" x2="990" y1="1268" y2="1268"/><line x1="846" x2="990" y1="1285.8" y2="1285.8"/><line x1="846" x2="990" y1="1303.6" y2="1303.6"/><line x1="846" x2="990" y1="1321.4" y2="1321.4"/><line x1="846" x2="990" y1="1339.2" y2="1339.2"/><line x1="846" x2="990" y1="1357" y2="1357"/><line x1="846" x2="990" y1="1374.8" y2="1374.8"/><line x1="846" x2="990" y1="1392.6" y2="1392.6"/><line x1="846" x2="990" y1="1410.4" y2="1410.4"/><line x1="846" x2="990" y1="1428.2" y2="1428.2"/><line x1="846" x2="990" y1="1446" y2="1446"/><line x1="846" x2="990" y1="1463.8" y2="1463.8"/><line x1="846" x2="990" y1="1481.6" y2="1481.6"/><line x1="846" x2="990" y1="1499.4" y2="1499.4"/><line x1="846" x2="990" y1="1517.2" y2="1517.2"/><line x1="846" x2="990" y1="1535" y2="1535"/><line x1="846" x2="990" y1="1552.8" y2="1552.8"/>
</g>
<g class="m" font-size="14" letter-spacing="1.5">
<text x="860" y="1106">Isg15</text><text x="860" y="1123.8">Oasl1</text><text x="860" y="1141.6">Irf9</text><text x="860" y="1159.4">Trim25</text><text x="860" y="1177.2">Usp18</text><text x="860" y="1195">Map2k6</text><text x="860" y="1212.8">Ptpn6</text><text x="860" y="1230.6">Hspa1a</text><text x="860" y="1248.4">Uba7</text><text x="860" y="1266.2">Tubb6</text><text x="860" y="1284">Trp53</text><text x="860" y="1301.8">Ppm1b</text><text x="860" y="1319.6">Tuba13</text><text x="860" y="1337.4">Hspa8</text><text x="860" y="1355.2">Camk2a</text><text x="860" y="1373">Eif2ak2</text><text x="860" y="1390.8">Dhx9</text><text x="860" y="1408.6">Eif4a2</text><text x="860" y="1426.4">Hspa1l</text><text x="860" y="1444.2">Camk2d</text><text x="860" y="1462">Ilf3</text><text x="860" y="1479.8">Ifna1</text><text x="860" y="1497.6">Fancg</text><text x="860" y="1515.4">Rps27a</text><text x="860" y="1533.2">Tuba1c</text><text x="860" y="1551">Nck1</text>
</g>
</svg>
</body></html>
